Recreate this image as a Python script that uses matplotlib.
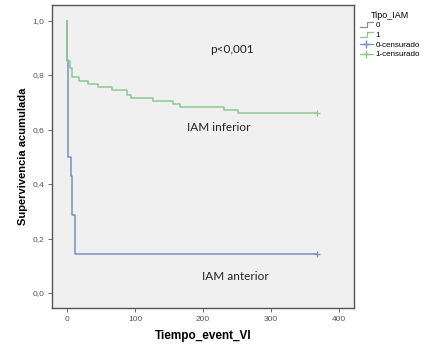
import numpy as np
import matplotlib
matplotlib.use("Agg")
import matplotlib.pyplot as plt
from matplotlib.lines import Line2D
from matplotlib.legend_handler import HandlerBase

# Kaplan-Meier steps
t_inf = [0, 0, 4, 8, 17, 31, 46, 66, 88, 94, 127, 156, 166, 231, 252, 368]
s_inf = [1.0, 0.850, 0.825, 0.794, 0.778, 0.767, 0.755, 0.745, 0.727, 0.716,
         0.706, 0.694, 0.681, 0.671, 0.659, 0.659]
t_ant = [0, 0, 1, 6, 7, 12, 368]
s_ant = [1.0, 0.857, 0.500, 0.429, 0.286, 0.143, 0.143]
cens_inf = ([368], [0.659])
cens_ant = ([368], [0.143])

x_ticks = [0, 100, 200, 300, 400]
y_ticks = [0.0, 0.2, 0.4, 0.6, 0.8, 1.0]
y_ticklabels = ["0,0", "0,2", "0,4", "0,6", "0,8", "1,0"]

c_ant = "#7b8fc6"
c_inf = "#8dc98d"

plt.rcParams['font.family'] = ['Liberation Sans', 'DejaVu Sans']

fig = plt.figure(figsize=(4.28, 3.46), dpi=100)
ax = fig.add_axes([0.1215, 0.1098, 0.7056, 0.8757])
ax.set_facecolor("#f0f0f0")

ax.step(t_ant, s_ant, where='post', color=c_ant, lw=1.1)
ax.step(t_inf, s_inf, where='post', color=c_inf, lw=1.1)
ax.plot(*cens_ant, marker='+', color=c_ant, ms=5, mew=0.9, ls='none')
ax.plot(*cens_inf, marker='+', color=c_inf, ms=5, mew=0.9, ls='none')

ax.set_xlim(-22, 422)
ax.set_ylim(-0.055, 1.057)
ax.set_xticks(x_ticks)
ax.set_yticks(y_ticks)
ax.set_yticklabels(y_ticklabels)
ax.tick_params(labelsize=6, labelcolor="#555555", length=3, width=0.6,
               color="#555555", pad=2.5)
for sp in ax.spines.values():
    sp.set_color("#555555")
    sp.set_linewidth(1.0)

ax.set_xlabel("Tiempo_event_VI", fontsize=8.5, fontweight='bold', labelpad=5)
ax.set_ylabel("Supervivencia acumulada", fontsize=8, fontweight='bold', labelpad=3)

txt = dict(fontsize=8.5, family=['Lato', 'DejaVu Sans'], ha='center', va='center', color="#222222")
ax.text(242, 0.895, "p<0,001", **txt)
ax.text(223.5, 0.608, "IAM inferior", **txt)
ax.text(247, 0.06, "IAM anterior", **txt)


# step shaped legend icon
class StepHandler(HandlerBase):
    def create_artists(self, legend, orig_handle, xdescent, ydescent,
                       width, height, fontsize, trans):
        xs = np.array([0, 0.55, 0.55, 1.0]) * width - xdescent
        ys = np.array([0.1, 0.1, 0.9, 0.9]) * height - ydescent
        ln = Line2D(xs, ys, color=orig_handle.get_color(), lw=0.9)
        ln.set_transform(trans)
        return [ln]


h0 = Line2D([], [], color=c_ant)
h1 = Line2D([], [], color=c_inf)
h2 = Line2D([], [], color=c_ant, marker='+', ms=6, lw=0.9)
h3 = Line2D([], [], color=c_inf, marker='+', ms=6, lw=0.9)
leg = fig.legend([h0, h1, h2, h3], ["0", "1", "0-censurado", "1-censurado"],
                 title="Tipo_IAM", loc='upper left', bbox_to_anchor=(0.828, 0.985),
                 frameon=False, fontsize=5.8, title_fontsize=6.5,
                 handlelength=1.6, handletextpad=0.3, labelspacing=0.25,
                 borderpad=0.2, handler_map={h0: StepHandler(), h1: StepHandler()})

fig.savefig("out.png", dpi=100)
